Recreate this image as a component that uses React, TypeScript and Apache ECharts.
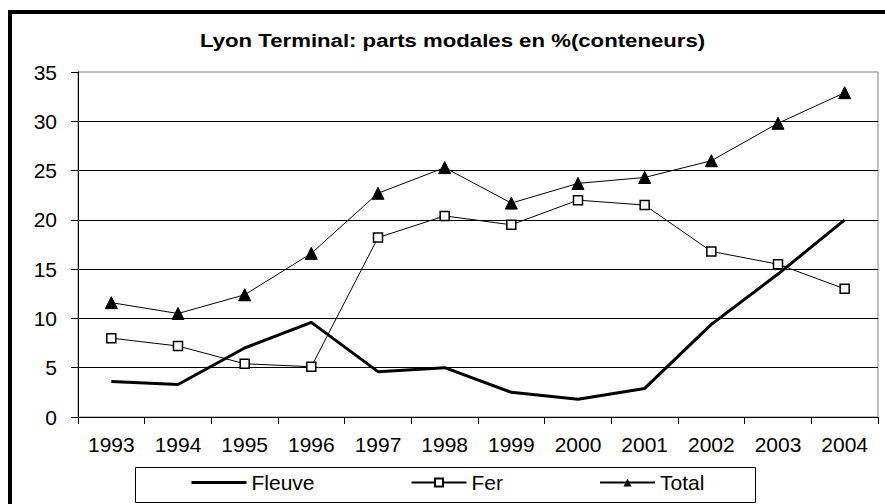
import React, { useEffect, useRef } from "react";
import * as echarts from "echarts";

const years = ["1993", "1994", "1995", "1996", "1997", "1998", "1999", "2000", "2001", "2002", "2003", "2004"];
const fleuve = [3.6, 3.3, 7.0, 9.6, 4.6, 5.0, 2.5, 1.8, 2.9, 9.4, 14.5, 20.0];
const fer = [8.0, 7.2, 5.4, 5.1, 18.2, 20.4, 19.5, 22.0, 21.5, 16.8, 15.5, 13.0];
const total = [11.6, 10.5, 12.4, 16.6, 22.7, 25.3, 21.7, 23.7, 24.3, 26.0, 29.8, 32.9];
const titleText = "Lyon Terminal: parts modales en %(conteneurs)";

const FONT = "'Liberation Sans', Arial, sans-serif";

export default function App() {
  const ref = useRef<HTMLDivElement>(null);
  useEffect(() => {
    if (!ref.current) return;
    const chart = echarts.init(ref.current, undefined, { renderer: "svg" });
    chart.setOption({
      animation: false,
      backgroundColor: "#fff",
      textStyle: { fontFamily: FONT },
      graphic: [
        {
          type: "rect",
          shape: { x: 10, y: 12, width: 1000, height: 1000 },
          style: { fill: "none", stroke: "#000", lineWidth: 4 },
          silent: true,
        },
        {
          type: "rect",
          shape: { x: 78, y: 72, width: 800, height: 345 },
          style: { fill: "none", stroke: "#808080", lineWidth: 1 },
          silent: true,
        },
        {
          type: "rect",
          shape: { x: 135.5, y: 467.5, width: 620, height: 35 },
          style: { fill: "#fff", stroke: "#000", lineWidth: 1 },
          silent: true,
          z: -1,
        },
        {
          type: "text",
          x: 200,
          y: 40,
          scaleX: 1.168,
          style: {
            text: titleText,
            fontFamily: FONT,
            fontSize: 19,
            fontWeight: "bold",
            fill: "#000",
            textAlign: "left",
            textVerticalAlign: "middle",
          },
        },
      ],
      grid: { left: 78, right: 7, top: 72, bottom: 87, containLabel: false },
      legend: {
        left: 185,
        top: 467,
        itemWidth: 55,
        itemHeight: 10,
        itemGap: 96,
        textStyle: { fontSize: 21, color: "#000", fontFamily: FONT },
        data: [
          { name: "Fleuve", itemStyle: { opacity: 0 }, lineStyle: { width: 3, color: "#000" } },
          { name: "Fer" },
          { name: "Total" },
        ],
      },
      xAxis: {
        type: "category",
        data: years,
        boundaryGap: true,
        axisLine: { lineStyle: { color: "#000", width: 1 } },
        axisTick: { show: true, length: 7, alignWithLabel: false, lineStyle: { color: "#000" } },
        axisLabel: { fontSize: 21, color: "#000", margin: 17, fontFamily: FONT, interval: 0 },
        splitLine: { show: false },
      },
      yAxis: {
        type: "value",
        min: 0,
        max: 35,
        interval: 5,
        axisLine: { show: true, lineStyle: { color: "#000", width: 1 } },
        axisTick: { show: true, length: 7, lineStyle: { color: "#000" } },
        axisLabel: { fontSize: 21, color: "#000", margin: 21, fontFamily: FONT },
        splitLine: { show: true, showMaxLine: false, lineStyle: { color: "#000", width: 1 } },
      },
      series: [
        {
          name: "Fleuve",
          type: "line",
          data: fleuve,
          symbol: "none",
          lineStyle: { color: "#000", width: 3 },
          itemStyle: { color: "#000" },
          z: 3,
        },
        {
          name: "Fer",
          type: "line",
          data: fer,
          symbol: "rect",
          symbolSize: 9,
          showSymbol: true,
          lineStyle: { color: "#000", width: 1 },
          itemStyle: { color: "#fff", borderColor: "#000", borderWidth: 1.5 },
          z: 4,
        },
        {
          name: "Total",
          type: "line",
          data: total,
          symbol: "triangle",
          symbolSize: [12, 12],
          showSymbol: true,
          lineStyle: { color: "#000", width: 1 },
          itemStyle: { color: "#000", borderColor: "#000" },
          z: 5,
        },
      ],
    });
    return () => chart.dispose();
  }, []);
  return <div ref={ref} style={{ width: 885, height: 504, position: "absolute", left: 0, top: 0 }} />;
}
